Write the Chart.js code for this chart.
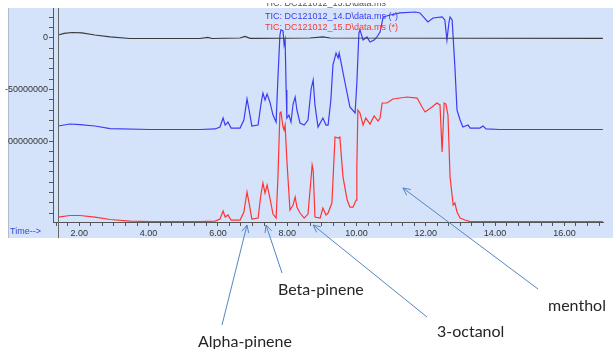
<!DOCTYPE html>
<html>
<head>
<meta charset="utf-8">
<script src="https://cdn.jsdelivr.net/npm/chart.js@4.4.1/dist/chart.umd.min.js"></script>
<style>
html, body { margin: 0; padding: 0; background: #fff; }
canvas { display: block; }
</style>
</head>
<body>
<canvas id="chart" width="613" height="349"></canvas>
<script>
// retention time (min) and signal (millions of counts, offset plot)
const blackTime   = [1.39, 1.56, 1.79, 2.08, 2.45, 2.89, 3.46, 5.48, 5.71, 5.83, 6.64, 6.78, 6.93, 8.66, 9.03, 9.24, 17.11];
const blackSignal = [2.9, 4.4, 5.3, 4.9, 2.9, 1.0, -0.5, -0.5, 0.5, -0.5, 0, 1.5, -0.3, 0, 1.0, 0, -0.3];

const blueTime = [1.39, 1.73, 2.02, 2.45, 2.89, 4.04, 5.48, 5.92, 6.06, 6.15, 6.21, 6.29, 6.38, 6.64, 6.75, 6.84, 6.90, 6.98,
  7.16, 7.24, 7.30, 7.36, 7.42, 7.50, 7.59, 7.68, 7.73, 7.79, 7.82, 7.88, 7.91, 7.94, 7.97, 7.99, 8.05, 8.11, 8.17, 8.23,
  8.28, 8.37, 8.49, 8.60, 8.69, 8.75, 8.80, 8.89, 9.03, 9.12, 9.18, 9.26, 9.32, 9.41, 9.47, 9.50, 9.58, 9.67, 9.81, 9.96,
  10.01, 10.07, 10.10, 10.19, 10.30, 10.39, 10.51, 10.59, 10.68, 10.77, 10.97, 11.26, 11.69, 11.83, 12.06, 12.21, 12.47,
  12.55, 12.61, 12.67, 12.70, 12.76, 12.84, 12.90, 12.99, 13.07, 13.22, 13.28, 13.56, 13.65, 13.74, 14.14, 17.11];
const blueSignal = [-85.4, -83.5, -84.0, -85.4, -87.9, -88.8, -88.8, -88.3, -86.4, -77.7, -84.5, -81.6, -87.4, -87.4, -79.6, -59.2, -69.9, -85.4,
  -84.5, -65.0, -53.4, -60.2, -54.4, -62.1, -74.8, -81.6, -40.8, 2.9, 7.8, 6.8, -6.8, -1.9, -50.5, -77.7, -74.8, -81.6, -64.1, -57.3,
  -69.9, -82.5, -84.5, -79.6, -49.5, -40.8, -65.0, -86.4, -77.7, -84.5, -84.5, -60.2, -26.2, -14.6, -19.4, -14.6, -28.2, -43.7, -67.0, -72.8,
  -43.7, 4.9, 7.8, -1.9, 1.0, -3.9, -1.9, 1.0, 5.8, 20.4, 22.3, 24.3, 25.2, 24.3, 15.5, 19.4, 20.4,
  17.5, -1.9, 15.5, 20.4, 17.5, -28.2, -69.9, -79.6, -86.4, -84.5, -87.4, -87.4, -85.4, -88.3, -88.8, -88.8];

const redTime = [1.39, 1.73, 2.02, 2.45, 2.89, 3.46, 4.04, 5.48, 5.92, 6.06, 6.15, 6.21, 6.29, 6.38, 6.64, 6.75, 6.84, 6.90, 6.98,
  7.16, 7.24, 7.30, 7.36, 7.42, 7.50, 7.59, 7.68, 7.73, 7.79, 7.82, 7.88, 7.91, 7.94, 7.99, 8.08, 8.17, 8.23, 8.28, 8.37,
  8.49, 8.60, 8.66, 8.72, 8.75, 8.80, 8.95, 9.03, 9.12, 9.18, 9.29, 9.38, 9.47, 9.52, 9.61, 9.73, 9.81, 9.90, 9.99,
  10.01, 10.04, 10.10, 10.19, 10.27, 10.39, 10.51, 10.62, 10.68, 10.74, 10.88, 11.05, 11.46, 11.75, 11.89, 11.98, 12.18,
  12.32, 12.41, 12.47, 12.53, 12.58, 12.64, 12.70, 12.79, 12.84, 12.90, 12.99, 13.13, 13.28, 17.11];
const redSignal = [-173.8, -172.3, -172.3, -173.8, -176.2, -177.7, -178.2, -178.2, -177.7, -175.7, -168.0, -173.8, -171.8, -176.7, -176.7, -168.9, -149.5, -160.2, -175.7,
  -174.8, -152.4, -140.8, -150.5, -142.7, -155.3, -170.9, -174.8, -137.9, -72.8, -71.8, -86.4, -89.3, -84.5, -118.4, -167.0, -162.1, -154.4, -164.1, -169.9,
  -174.8, -170.9, -147.6, -123.3, -128.2, -173.8, -174.8, -165.0, -171.8, -169.9, -160.2, -96.1, -97.1, -96.1, -134.9, -157.3, -164.1, -164.1, -157.3,
  -125.2, -69.9, -72.8, -84.5, -77.7, -83.5, -75.7, -80.6, -77.7, -63.1, -63.1, -59.2, -57.3, -58.3, -67.0, -71.8, -67.0,
  -63.1, -65.0, -110.7, -63.1, -64.1, -74.8, -134.9, -162.1, -160.2, -168.9, -174.8, -176.7, -178.2, -178.2];

const traceNames = ['TIC: DC121012_13.D\\data.ms', 'TIC: DC121012_14.D\\data.ms (*)', 'TIC: DC121012_15.D\\data.ms (*)'];
const yTickLabels = { '0': '0', '-50': '-50000000', '-100': '00000000' };

// annotated compounds and where their arrows point
const peakNames  = ['Alpha-pinene', 'Beta-pinene', '3-octanol', 'menthol'];
const peakTime   = [6.84, 7.39, 8.75, 11.34];
const peakSignal = [-181.6, -181.6, -181.6, -145.6];

function toPoints(xs, ys) {
  return xs.map(function (x, i) { return { x: x, y: ys[i] }; });
}

const traceColors = ['#3a3a3a', '#3c3cf2', '#ff3434'];

const backgroundPlugin = {
  id: 'panel',
  beforeDraw: function (chart) {
    const ctx = chart.ctx;
    ctx.save();
    ctx.fillStyle = '#ffffff';
    ctx.fillRect(0, 0, chart.width, chart.height);
    ctx.fillStyle = '#d4e3fa';
    ctx.fillRect(8, 8, chart.width - 8, 230);
    ctx.strokeStyle = '#b4bccb';
    ctx.lineWidth = 1;
    ctx.beginPath();
    ctx.moveTo(8.5, 8);
    ctx.lineTo(8.5, 238);
    ctx.stroke();
    ctx.restore();
  }
};

function drawArrow(ctx, x0, y0, x1, y1) {
  ctx.beginPath();
  ctx.moveTo(x0, y0);
  ctx.lineTo(x1, y1);
  const a = Math.atan2(y0 - y1, x0 - x1);
  const len = 8;
  ctx.moveTo(x1 + len * Math.cos(a - 0.45), y1 + len * Math.sin(a - 0.45));
  ctx.lineTo(x1, y1);
  ctx.lineTo(x1 + len * Math.cos(a + 0.45), y1 + len * Math.sin(a + 0.45));
  ctx.stroke();
}

const overlayPlugin = {
  id: 'overlay',
  afterDraw: function (chart) {
    const ctx = chart.ctx;
    const xs = chart.scales.x, ys = chart.scales.y;
    ctx.save();

    // start-of-run marker
    const sx = Math.round(xs.getPixelForValue(blackTime[0])) + 0.5;
    ctx.strokeStyle = '#666';
    ctx.lineWidth = 1;
    ctx.beginPath();
    ctx.moveTo(sx, 8);
    ctx.lineTo(sx, 238);
    ctx.stroke();

    // trace titles, partly cut off at the top
    ctx.font = '9px "Liberation Sans", Arial, sans-serif';
    ctx.textBaseline = 'middle';
    ctx.textAlign = 'left';
    ctx.save();
    ctx.beginPath();
    ctx.rect(0, 3, chart.width, chart.height);
    ctx.clip();
    ctx.fillStyle = '#555';
    ctx.fillText(traceNames[0], 265, 4);
    ctx.fillStyle = '#6a76e6';
    ctx.fillText('-100000000', 13, -1);
    ctx.restore();
    ctx.fillStyle = traceColors[1];
    ctx.fillText(traceNames[1], 265, 16.5);
    ctx.fillStyle = traceColors[2];
    ctx.fillText(traceNames[2], 265, 27.5);

    ctx.fillStyle = '#3646d8';
    ctx.fillText('Time-->', 10, 232);

    // compound labels with arrows
    const labelPos = [[198, 342], [278, 290], [437, 332], [548, 306]];
    const tailPos = [[222, 325], [282, 273], [427, 317], [538, 289]];
    ctx.strokeStyle = '#5585c2';
    ctx.lineWidth = 1;
    peakNames.forEach(function (name, i) {
      const tx = xs.getPixelForValue(peakTime[i]);
      const ty = ys.getPixelForValue(peakSignal[i]);
      drawArrow(ctx, tailPos[i][0], tailPos[i][1], tx, ty);
    });
    ctx.font = '16px Lato, "Noto Sans", sans-serif';
    ctx.fillStyle = '#262626';
    peakNames.forEach(function (name, i) {
      ctx.fillText(name, labelPos[i][0], labelPos[i][1]);
    });
    ctx.restore();
  }
};

new Chart(document.getElementById('chart'), {
  type: 'line',
  data: {
    datasets: [
      { label: traceNames[0], data: toPoints(blackTime, blackSignal), borderColor: traceColors[0], borderWidth: 1.2, pointRadius: 0 },
      { label: traceNames[1], data: toPoints(blueTime, blueSignal), borderColor: traceColors[1], borderWidth: 1.2, pointRadius: 0 },
      { label: traceNames[2], data: toPoints(redTime, redSignal), borderColor: traceColors[2], borderWidth: 1.2, pointRadius: 0 }
    ]
  },
  options: {
    responsive: false,
    animation: false,
    layout: { padding: { left: 0, right: 10, top: 8, bottom: 0 } },
    plugins: { legend: { display: false }, tooltip: { enabled: false } },
    elements: { line: { tension: 0 } },
    scales: {
      x: {
        type: 'linear',
        min: 1.241,
        max: 17.114,
        afterFit: function (s) { s.height = 127; },
        afterBuildTicks: function (s) {
          const t = [];
          for (let k = 4; k <= 51; k++) t.push({ value: k / 3 });
          s.ticks = t;
        },
        grid: { drawOnChartArea: false, drawTicks: true, tickLength: 4, color: '#555' },
        border: { display: true, color: '#555', width: 1 },
        ticks: {
          autoSkip: false,
          maxRotation: 0,
          padding: 2,
          color: '#333',
          font: { family: '"Liberation Sans", Arial, sans-serif', size: 9 },
          callback: function (v) {
            const k = Math.round(v * 3);
            return k % 6 === 0 ? (k / 3).toFixed(2) : '';
          }
        }
      },
      y: {
        type: 'linear',
        min: -178.6,
        max: 29.1,
        afterFit: function (s) { s.width = 53; },
        afterBuildTicks: function (s) {
          const t = [];
          for (let v = -170; v <= 20; v += 10) t.push({ value: v });
          s.ticks = t;
        },
        grid: { drawOnChartArea: false, drawTicks: true, tickLength: 4, color: '#555' },
        border: { display: true, color: '#555', width: 1 },
        ticks: {
          autoSkip: false,
          padding: 1,
          color: '#333',
          font: { family: '"Liberation Sans", Arial, sans-serif', size: 9 },
          callback: function (v) {
            const key = String(Math.round(v));
            return yTickLabels[key] !== undefined ? yTickLabels[key] : '';
          }
        }
      }
    }
  },
  plugins: [backgroundPlugin, overlayPlugin]
});
</script>
</body>
</html>
